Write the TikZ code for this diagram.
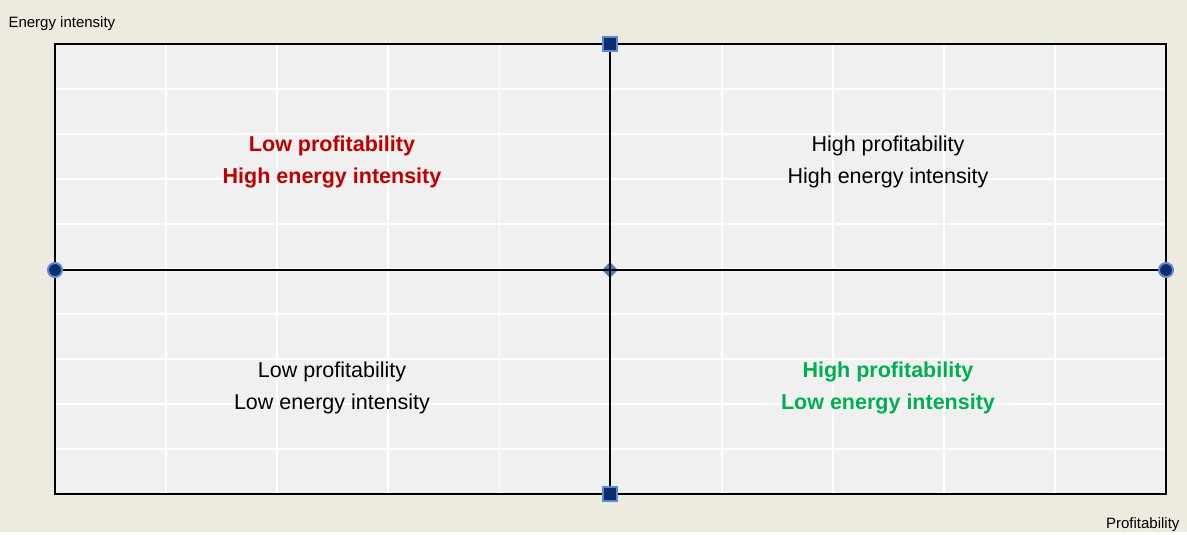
\documentclass[tikz,border=0pt]{standalone}
\usepackage{fontspec}
\setmainfont{Liberation Sans}
\usetikzlibrary{shapes.geometric}
\definecolor{paper}{HTML}{EDEAE0}
\definecolor{plotbg}{HTML}{F0F0F0}
\definecolor{lowred}{HTML}{C00000}
\definecolor{highgreen}{HTML}{00B050}
\definecolor{marknavy}{HTML}{0C2D6B}
\definecolor{markedge}{HTML}{5A8AD0}
\definecolor{midblue}{HTML}{4A7CC4}
\tikzset{quadgrid/.style={white,line width=1.8pt},
  axisline/.style={black,line width=2.8pt},
  marksq/.style={rectangle,fill=marknavy,draw=markedge,line width=2pt,minimum size=14pt,inner sep=0pt},
  markdot/.style={circle,fill=marknavy,draw=markedge,line width=2pt,minimum size=14pt,inner sep=0pt},
  markdia/.style={diamond,fill=midblue,minimum size=16pt,inner sep=0pt},
  quadtext/.style={align=center,font=\fontsize{21.5}{32}\selectfont},
  axistext/.style={font=\fontsize{15}{18}\selectfont}}

\begin{document}
\begin{tikzpicture}[x=1pt,y=-1pt]
  % page and plot area
  \fill[paper] (0,0) rectangle (1187,532);
  \coordinate (nw) at (55,44);
  \coordinate (se) at (1166,494);
  \fill[plotbg] (nw) rectangle (se);
  \foreach \i in {1,...,9} {
    \draw[quadgrid] (55+111.1*\i,44) -- (55+111.1*\i,494);
    \draw[quadgrid] (55,44+45*\i) -- (1166,44+45*\i);
  }
  \draw[line width=2.4pt] (nw) rectangle (se);

  \coordinate (top)   at (610,44);
  \coordinate (bot)   at (610,494);
  \coordinate (left)  at (55,270);
  \coordinate (right) at (1166,270);

  \node[markdia] (mid) at (610,270) {};
  \draw[axisline] (left) -- (right);
  \draw[axisline] (top) -- (bot);
  \node[marksq]  (topmark)   at (top)   {};
  \node[marksq]  (botmark)   at (bot)   {};
  \node[markdot] (leftmark)  at (left)  {};
  \node[markdot] (rightmark) at (right) {};

  % quadrants
  \node[quadtext,lowred]    (lowhigh)  at (332,162) {\textbf{Low profitability}\\\textbf{High energy intensity}};
  \node[quadtext]           (highhigh) at (888,162) {High profitability\\High energy intensity};
  \node[quadtext]           (lowlow)   at (332,388) {Low profitability\\Low energy intensity};
  \node[quadtext,highgreen] (highlow)  at (888,388) {\textbf{High profitability}\\\textbf{Low energy intensity}};

  % axis names
  \node[axistext,anchor=base west] (ylabel) at (5,27)    {Energy intensity};
  \node[axistext,anchor=base east] (xlabel) at (1183,528) {Profitability};
\end{tikzpicture}
\end{document}
